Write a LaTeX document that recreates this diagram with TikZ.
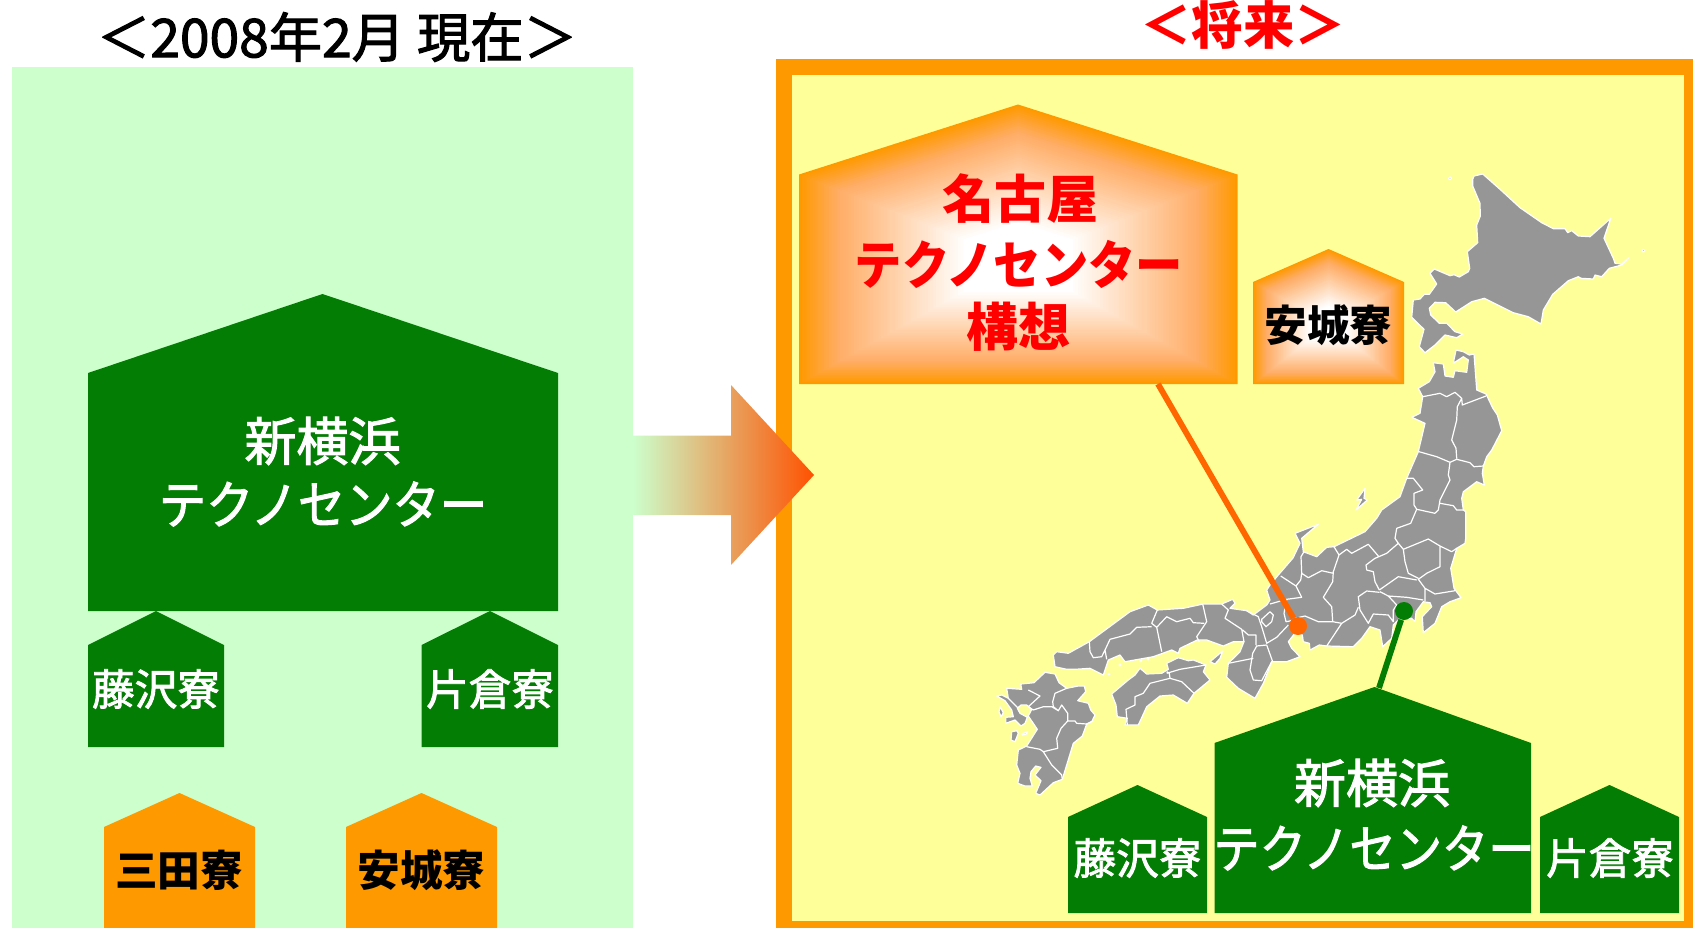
\documentclass[tikz,border=0pt]{standalone}
\usepackage{fontspec}
\setmainfont{Noto Sans CJK JP}
\newfontfamily\mediumjp{Noto Sans CJK JP}[FakeBold=2]
\definecolor{panelgreen}{HTML}{CCFFCC}
\definecolor{frameyellow}{HTML}{FFFF99}
\definecolor{houseorange}{HTML}{FF9900}
\definecolor{housepeach}{HTML}{FFAD66}
\definecolor{housegreen}{HTML}{047D04}
\definecolor{lineorange}{HTML}{FF6600}
\definecolor{mapgray}{HTML}{969696}
\newcommand{\katakana}[1]{\scalebox{#1}[1]{テクノセンター}}
% house with a glow from the walls to the middle
\newcommand{\glowhouse}[6]{%
  \pgfmathsetmacro{\glowy}{#4+0.56*(#6-#4)}
  \foreach \k in {0,...,60}{
    \pgfmathsetmacro{\glowr}{1-0.75*\k/60}
    \pgfmathtruncatemacro{\glowa}{min(\k,14)*100/14}
    \pgfmathtruncatemacro{\glowb}{max(\k-14,0)*100/46}
    \fill[white!\glowb!housepeach!\glowa!houseorange,shift={(#2,\glowy)},scale=\glowr]
      (#1-#2,#6-\glowy) -- (#1-#2,#5-\glowy) -- (0,#4-\glowy) -- (#3-#2,#5-\glowy) -- (#3-#2,#6-\glowy) -- cycle;
  }}
\begin{document}
\begin{tikzpicture}[x=0.75pt,y=-0.75pt,
    greenhouse/.style={fill=housegreen},
    orangehouse/.style={fill=houseorange},
    bigtxt/.style={font=\bfseries\fontsize{39}{39}\selectfont,inner sep=0pt},
    smalltxt/.style={font=\bfseries\fontsize{32}{32}\selectfont,inner sep=0pt},
    thintxt/.style={font=\mediumjp\fontsize{39}{39}\selectfont,inner sep=0pt},
    thinsmall/.style={font=\mediumjp\fontsize{32}{32}\selectfont,inner sep=0pt},
    land/.style={fill=mapgray,draw=white,line width=0.9pt,line join=round},
    border/.style={draw=white,line width=0.9pt,line join=round},
    link/.style={line width=4.4pt},
    dot/.style={circle,inner sep=0pt,minimum size=13.5pt}]
  \useasboundingbox (0,0) rectangle (1693,928);
  % panels
  \fill[panelgreen] (12,67) rectangle (633,928);
  \fill[houseorange] (776,59) rectangle (1693,928);
  \fill[frameyellow] (792,75) rectangle (1684,921);
  \node[font=\mediumjp\fontsize{40}{40}\selectfont,inner sep=0pt] (nowtitle) at (337,37) {＜2008年2月 現在＞};
  \node[font=\bfseries\fontsize{38.5}{38.5}\selectfont,inner sep=0pt,text=red] (futuretitle) at (1243,25) {＜将来＞};
  % arrow
  \shade[left color=panelgreen,middle color=housepeach!60!panelgreen!80!orange,right color=lineorange!80!red]
    (633,435.5) -- (731,435.5) -- (731,385) -- (814,475) -- (731,565) -- (731,515) -- (633,515) -- cycle;
  % left side
  \fill[greenhouse] (88,611) -- (88,373) -- (322.5,294) -- (558,373) -- (558,611) -- cycle;
  \fill[greenhouse] (88,747) -- (88,645) -- (156,611) -- (224,645) -- (224,747) -- cycle;
  \fill[greenhouse] (421.5,747) -- (421.5,645) -- (490,611) -- (558,645) -- (558,747) -- cycle;
  \fill[orangehouse] (104,928) -- (104,827) -- (179.5,793) -- (255,827) -- (255,928) -- cycle;
  \fill[orangehouse] (346,928) -- (346,827) -- (421.5,793) -- (497,827) -- (497,928) -- cycle;
  \node[thintxt,text=white] (yokohama) at (322.5,441) {新横浜};
  \node[thintxt,text=white] (techno) at (323,504) {\katakana{0.91}};
  \node[thinsmall,text=white] (fujisawa) at (156,689) {藤沢寮};
  \node[thinsmall,text=white] (katakura) at (490,689) {片倉寮};
  \node[smalltxt] (mita) at (179,870) {三田寮};
  \node[smalltxt] (anjo) at (421.5,870) {安城寮};
  % hokkaido
  \draw[land] (1472.7,179.3) -- (1474,176) -- (1482.7,174) -- (1500,189.3) -- (1520,207.7) -- (1541.7,222.7) -- (1553.3,228.7) -- (1565,228.7) -- (1567.7,232.7) -- (1571.7,230.7) -- (1578.3,236) -- (1590,236.7) -- (1610.7,218.3) -- (1604,238.3) -- (1613.3,258.3) -- (1615,263.3) -- (1621.7,264) -- (1629.3,257.3) -- (1621.7,265) -- (1609.3,268.3) -- (1601.7,276.7) -- (1595,275) -- (1593.3,279) -- (1581,278.3) -- (1578.3,276.7) -- (1568.3,280.7) -- (1552.7,294.3) -- (1543.3,310) -- (1541,324) -- (1528.3,316.7) -- (1513.3,312.7) -- (1484.3,298.3) -- (1471.7,301.7) -- (1455.7,312) -- (1445.7,302.7) -- (1435,302.3) -- (1429.3,308.3) -- (1430.7,315) -- (1439.3,323.3) -- (1446.7,323.3) -- (1455,331.7) -- (1462.7,334) -- (1456.7,337.7) -- (1445,335) -- (1435,345) -- (1425,352.7) -- (1419.3,346.7) -- (1424,329.3) -- (1411.7,317.3) -- (1413.3,300) -- (1420,299) -- (1424.3,294.3) -- (1429.3,294.3) -- (1436.7,284) -- (1430,273.3) -- (1434.3,269) -- (1450,275.7) -- (1454,274.7) -- (1459.3,277) -- (1468.3,271.7) -- (1469.7,268.3) -- (1467.3,251.7) -- (1477.7,242.7) -- (1476.7,225) -- (1480.3,216) -- (1480,203.3) -- (1472.7,186) -- cycle;
  \fill[land] (1450,178.3) circle (1.5) (1643.3,250.7) circle (1.5);
  % honshu
  \draw[land] (1474,354) -- (1476.7,390) -- (1486,394) -- (1492.7,408) -- (1497.3,415) -- (1501.7,430.7) -- (1491.7,450) -- (1486.7,456.7) -- (1483.3,466) -- (1482.3,473.3) -- (1484.3,485) -- (1476.7,481.7) -- (1463.3,491.7) -- (1461.7,498.3) -- (1463.3,510) -- (1465.7,511.7) -- (1465.7,538.3) -- (1465,543.3) -- (1456.7,548.3) -- (1450.7,568.3) -- (1454,588.3) -- (1461,597.7) -- (1450,601.7) -- (1441.7,606.7) -- (1435,623.3) -- (1423.3,632.7) -- (1422.3,616.7) -- (1431.7,606.7) -- (1430,602.7) -- (1423.3,601.7) -- (1416,611.7) -- (1415,621.7) -- (1411.7,618.3) -- (1400,618.3) -- (1393.3,625) -- (1391.7,638.3) -- (1382.7,646.7) -- (1380,630) -- (1370,626.7) -- (1361.7,638.3) -- (1353.3,646.7) -- (1326.7,646) -- (1319.3,645) -- (1310,650) -- (1309.3,643.3) -- (1303.3,641.7) -- (1302.3,635) -- (1295,633) -- (1288.3,641.7) -- (1291.7,648.3) -- (1300,656.7) -- (1286.7,661.7) -- (1271.7,661.7) -- (1263.3,683.3) -- (1255,698.3) -- (1238.3,688.3) -- (1226.7,677.3) -- (1228.3,663.3) -- (1240,651.7) -- (1244,641.7) -- (1233.3,641.7) -- (1223.3,646) -- (1206.7,640) -- (1197.3,640) -- (1180,648.3) -- (1178.3,653.3) -- (1171.7,650) -- (1153.3,656.7) -- (1125,661.7) -- (1120,655) -- (1108.3,660) -- (1103.3,675) -- (1090,668.3) -- (1075,669.3) -- (1066.7,669.3) -- (1055,666.7) -- (1053.3,655) -- (1056.7,651.7) -- (1068.3,653.3) -- (1089.3,641.7) -- (1130,611.7) -- (1148.3,605) -- (1157.3,610) -- (1183.3,608.3) -- (1203.3,604) -- (1221.7,604) -- (1232.7,599.3) -- (1235,603.3) -- (1230,608.3) -- (1246.7,610.7) -- (1253.3,615) -- (1266.7,605) -- (1270,600) -- (1266.7,590) -- (1270,585) -- (1278.3,575) -- (1293,558) -- (1300,543.3) -- (1295,533.3) -- (1318.3,524.3) -- (1301.7,538.3) -- (1303.3,551.7) -- (1316.7,556.7) -- (1326.7,547.3) -- (1334,546.7) -- (1365,531.7) -- (1376.7,518.3) -- (1381.7,510) -- (1400,496.7) -- (1406.7,478.3) -- (1418.3,451.7) -- (1425,423.3) -- (1411.7,417.3) -- (1420,413.3) -- (1422.7,396.7) -- (1418.3,388.3) -- (1429.3,381.7) -- (1435,371.7) -- (1433.3,362.7) -- (1443.3,364) -- (1445,376) -- (1453.3,377.3) -- (1455,370.7) -- (1466.7,372.3) -- (1468.3,360) -- (1463.3,356.7) -- (1453.3,363.3) -- (1456,350) -- (1463.3,351.7) -- (1469.3,355) -- cycle;
  \draw[land] (1365,488.3) -- (1356.7,500) -- (1361.7,499.3) -- (1356,510) -- (1367.3,500) -- (1364,498.3) -- cycle;
  \draw[border] (1422.7,396.7) -- (1440,393.3) -- (1446.7,396.7) -- (1455,392.3) -- (1461.7,398.3) -- (1462.3,405) -- (1486,396)
    (1461.7,398.3) -- (1457.3,406.7) -- (1456.7,420) -- (1451.7,440) -- (1456,448.3) -- (1456.7,458.3)
    (1419,451.7) -- (1436.7,456.7) -- (1450,462.3) -- (1456.7,459.3) -- (1470,462.7) -- (1474,466.7) -- (1483.3,466)
    (1450,462.3) -- (1448.3,475) -- (1450,480) -- (1440,500) -- (1438.3,510) -- (1435,513.3)
    (1406.7,478.3) -- (1413.3,478.3) -- (1422.7,490) -- (1414,493.3) -- (1414,505) -- (1416.7,509.3) -- (1435,513.3)
    (1440,503.3) -- (1453.3,505.7) -- (1456.7,510) -- (1463.3,510)
    (1416.7,509.3) -- (1410.7,523.3) -- (1396.7,528.3) -- (1395,538.3) -- (1398.3,543.3) -- (1386.7,553.3) -- (1375,558.3) -- (1366,565) -- (1366.7,570) -- (1373.3,571.7) -- (1375,581.7) -- (1379.3,590)
    (1398.3,543.3) -- (1403.3,549.3) -- (1428.3,539) -- (1440,546) -- (1451.7,551.7) -- (1456.7,548.3)
    (1403.3,549.3) -- (1405,561.7) -- (1408.3,573.3) -- (1418.3,578.3)
    (1440,546) -- (1440,566.7) -- (1426.7,573.3) -- (1418.3,579.3) -- (1425,588.3) -- (1425,601)
    (1379.3,590) -- (1398.3,576.7) -- (1416.7,580)
    (1380,591.7) -- (1388.3,596) -- (1406.7,597.3) -- (1423.3,600)
    (1425,588.3) -- (1435,594) -- (1455,590.7)
    (1388.3,596) -- (1396.7,605) -- (1393.3,610) -- (1393.3,622)
    (1379.3,592.3) -- (1366.7,591) -- (1358.3,596.7) -- (1360,610) -- (1368.3,623.3) -- (1373.3,614) -- (1388.3,615) -- (1393.3,621.7)
    (1334,546.7) -- (1339,555) -- (1333.3,571.7) -- (1332.7,581.7) -- (1323.3,597.3) -- (1331.7,606.7) -- (1332.7,621.7)
    (1339,555) -- (1346.7,549.3) -- (1351.7,553.3) -- (1368.3,544.3) -- (1378.3,556)
    (1332.7,621.7) -- (1341.7,623.3) -- (1355,615) -- (1358.3,607.3)
    (1341.7,623.3) -- (1326.7,646)
    (1332.7,621.7) -- (1318.3,621.7) -- (1305,616) -- (1295,618.3)
    (1333.3,573.3) -- (1321.7,570.7) -- (1308.3,577.7) -- (1301.7,573.3) -- (1301,556.7) -- (1304,551.7)
    (1301.7,573.3) -- (1300.7,580) -- (1296,586) -- (1280.7,576)
    (1296,586) -- (1301.7,597.3) -- (1286.7,599.3) -- (1270,604)
    (1286.7,599.3) -- (1284,613.3) -- (1286,621.7) -- (1295,620)
    (1261.7,619.3) -- (1270,611.7) -- (1273.3,615) -- (1271.7,621.7) -- (1266,626.7) -- (1261.7,621.7) -- cycle
    (1246.7,610.7) -- (1258.3,616.7) -- (1261.7,626.7) -- (1266.7,643.3) -- (1276.7,637.3) -- (1288.3,625)
    (1242.7,630) -- (1248.3,635) -- (1256,635) -- (1256,645)
    (1221.7,604) -- (1228.3,610) -- (1225,618.3) -- (1241.7,629.3) -- (1244,641.7)
    (1266.7,645) -- (1256.7,646) -- (1252.7,653.3) -- (1250,670) -- (1253.3,680) -- (1261.7,680.7) -- (1271.7,661.7)
    (1228.3,663.3) -- (1253.3,658.3)
    (1266.7,645) -- (1272.7,661.7)
    (1157.3,610) -- (1151.7,623.3) -- (1156.7,627.3) -- (1166.7,616.7) -- (1176.7,621.7) -- (1190,618.3) -- (1193.3,622.7) -- (1204,623.3)
    (1202.7,604) -- (1206.7,621.7) -- (1196.7,636.7) -- (1199.3,641.7)
    (1156.7,627.3) -- (1161.7,651.7)
    (1151.7,626.7) -- (1136.7,627.3) -- (1130,634) -- (1110,639.3) -- (1105,650) -- (1106.7,659.3)
    (1089.3,641.7) -- (1090,651.7) -- (1093.3,657.7) -- (1101.7,656.7) -- (1105,650);
  % shikoku
  \draw[land] (1140,668.3) -- (1146.7,674) -- (1161.7,673.3) -- (1168.3,669.3) -- (1166.7,663.3) -- (1178.3,657.7) -- (1188.3,660.7) -- (1193.3,660) -- (1206,665) -- (1203.3,671.7) -- (1210,680) -- (1194,693.3) -- (1187.3,703.3) -- (1173.3,695) -- (1160,696) -- (1146.7,706.7) -- (1138.3,725) -- (1125,725) -- (1127.3,718.3) -- (1117.3,716.7) -- (1116,705) -- (1111.7,694) -- (1128.3,680) -- (1135,675) -- cycle;
  \draw[land] (1222.7,651) -- (1210,661.7) -- (1215,664) -- (1220,658.3) -- cycle;
  \draw[border] (1166.7,671.7) -- (1169.3,673.3) -- (1170,678.3)
    (1166.7,673.3) -- (1180,669.3) -- (1206,665)
    (1170,678.3) -- (1181.7,681.7) -- (1194,693.3)
    (1170,678.3) -- (1150,683.3) -- (1143.3,693.3) -- (1135,696.7) -- (1135,705) -- (1126,709.3) -- (1127.3,725);
  \fill[land] (1120,665) circle (1) (1109,674.3) circle (1) (1140.7,660.7) circle (1) (1148.3,659) circle (1);
  % kyushu
  \draw[land] (1020.7,684) -- (1034,682.7) -- (1045,672.3) -- (1055,674) -- (1059,682.7) -- (1066.7,688.3) -- (1078.3,686) -- (1084.3,686) -- (1085.7,691.7) -- (1077.7,700.7) -- (1088.3,703.3) -- (1090.7,710) -- (1095,715) -- (1091.7,721.7) -- (1086.7,724) -- (1082.3,736) -- (1073.3,743.3) -- (1062.3,779.3) -- (1053.3,782.7) -- (1040,795) -- (1035.7,793.3) -- (1041,780.7) -- (1035,775) -- (1041,767.3) -- (1035.7,766) -- (1031,771.7) -- (1030,778.3) -- (1032.3,786) -- (1025,786) -- (1017.7,783.3) -- (1020,773.3) -- (1016.7,765) -- (1018.3,750) -- (1026.7,746) -- (1037.3,729.3) -- (1028.3,716) -- (1031.7,709.3) -- (1026.7,705) -- (1021,705) -- (1017.3,708.3) -- (1020,713.3) -- (1027.3,717.3) -- (1025,723.3) -- (1021,726) -- (1015,720) -- (1005.7,723.3) -- (1005.7,717.3) -- (1013.3,716.7) -- (1011.7,710) -- (1005,700.7) -- (996.7,696) -- (1001.7,695) -- (1008.3,698.3) -- (1006.7,688.3) -- (1021.7,689.3) -- cycle;
  \draw[land] (1000,706.7) -- (999,711.7) -- (1001,716.7) -- (1003.3,712.7) -- cycle;
  \draw[land] (1011.7,731.7) -- (1011,740) -- (1015,741.7) -- (1018.3,733.3) -- (1016.7,730.7) -- cycle;
  \draw[land] (1021.7,734) -- (1027.7,731.7) -- (1026.7,734) -- (1022.3,735) -- cycle;
  \draw[border] (1028.3,690) -- (1040,696) -- (1028.3,706.7) -- (1033.3,710)
    (1008.3,698.3) -- (1018,708)
    (1066.7,688.3) -- (1055,693.3) -- (1052.7,701.7) -- (1053.3,706.7) -- (1058.3,710.7)
    (1033.3,710) -- (1043.3,706.7) -- (1051.7,706.7) -- (1058.3,710.7) -- (1061.7,705) -- (1067.7,713.3) -- (1067.7,721)
    (1067.7,721) -- (1075,721) -- (1076.7,723.3) -- (1086.7,724) -- (1093.3,720.7)
    (1067.7,721) -- (1061,728.3) -- (1056.7,738.3) -- (1057.7,748.3) -- (1043.3,751.7) -- (1040,749.3) -- (1026.7,746.7)
    (1043.3,751.7) -- (1051.7,765) -- (1061.7,775) -- (1062.3,779.3);
  % right side
  \glowhouse{799}{1018}{1237.5}{104.5}{174.5}{384}
  \glowhouse{1253}{1328.5}{1404}{249}{282}{384}
  \fill[greenhouse] (1214.5,913) -- (1214.5,743) -- (1374.5,687) -- (1531,743) -- (1531,913) -- cycle;
  \fill[greenhouse] (1068,913) -- (1068,817) -- (1137.5,785) -- (1207,817) -- (1207,913) -- cycle;
  \fill[greenhouse] (1540,913) -- (1540,817) -- (1609.5,785) -- (1679,817) -- (1679,913) -- cycle;
  \node[bigtxt,text=red] (nagoya) at (1020,199) {名古屋};
  \node[bigtxt,text=red] (nagoyatechno) at (1019,264) {\katakana{0.91}};
  \node[bigtxt,text=red] (plan) at (1018,327) {構想};
  \node[smalltxt] (anjonew) at (1328.5,325) {安城寮};
  \node[thintxt,text=white] (yokohamanew) at (1372,783) {新横浜};
  \node[thintxt,text=white] (technonew) at (1374,848) {\katakana{0.89}};
  \node[thinsmall,text=white] (fujisawanew) at (1137.5,858) {藤沢寮};
  \node[thinsmall,text=white] (katakuranew) at (1610,858) {片倉寮};
  % links
  \coordinate (planfoot) at (1158,384);
  \coordinate (yokohamaroof) at (1379,688);
  \node[dot,fill=lineorange] (nagoyadot) at (1298,626) {};
  \node[dot,fill=housegreen] (yokohamadot) at (1404,611) {};
  \draw[link,lineorange] (planfoot) -- (nagoyadot);
  \draw[link,housegreen] (yokohamaroof) -- (yokohamadot);
\end{tikzpicture}
\end{document}
